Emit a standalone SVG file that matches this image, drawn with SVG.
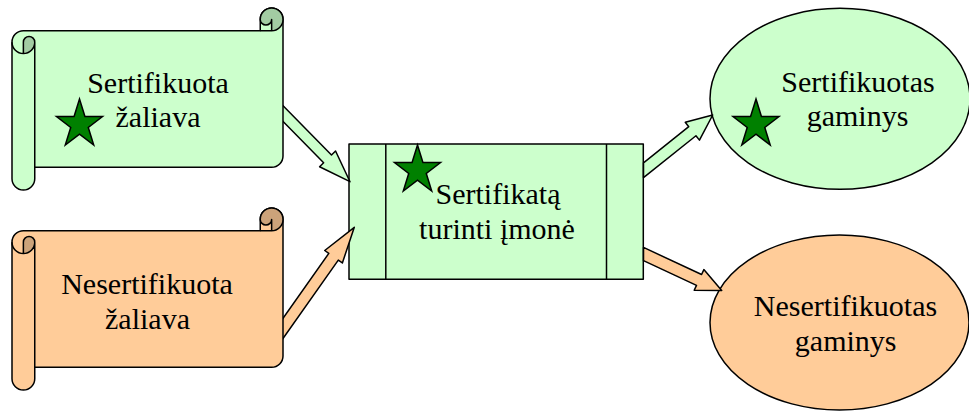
<svg xmlns="http://www.w3.org/2000/svg" xmlns:xlink="http://www.w3.org/1999/xlink" width="969" height="413" viewBox="0 0 969 413">
<style>
  .ln { stroke: #000; stroke-width: 1.5; stroke-linejoin: round; }
  .g { fill: #CCFFCC; }
  .o { fill: #FFCC99; }
  .gd { fill: #A3CCA3; }
  .od { fill: #CCA37A; }
  .nf { fill: none; }
  .star { fill: #008000; stroke: #000; stroke-width: 1.5; stroke-linejoin: miter; }
  .t { font-family: "Liberation Serif", "Times New Roman", serif; font-size: 30px; fill: #000; text-anchor: middle; }
</style>
<defs>
  <path id="star" d="M23,0 L28.43,17.57 L46,17.57 L31.78,28.43 L37.21,46 L23,35.14 L8.79,46 L14.22,28.43 L0,17.57 L17.57,17.57 Z"/>
</defs>
<rect width="969" height="413" fill="#FFFFFF"/>

<g id="node-firm">
  <rect class="g ln" x="349" y="144" width="294.3" height="135.3"/>
  <line class="ln" x1="385.8" y1="144" x2="385.8" y2="279.3"/>
  <line class="ln" x1="606.5" y1="144" x2="606.5" y2="279.3"/>
  <use href="#star" xlink:href="#star" class="star" x="394.5" y="145"/>
  <text class="t" x="498" y="203.5">Sertifikatą</text>
  <text class="t" x="497" y="238.5">turinti įmonė</text>
</g>

<g id="node-cert-product">
  <ellipse class="g ln" cx="840" cy="98.8" rx="130" ry="90.5"/>
  <use href="#star" xlink:href="#star" class="star" x="733" y="99"/>
  <text class="t" x="858" y="92">Sertifikuotas</text>
  <text class="t" x="857.5" y="126">gaminys</text>
</g>

<g id="node-noncert-product">
  <ellipse class="o ln" cx="839.5" cy="322.5" rx="129.5" ry="87.5"/>
  <text class="t" x="845.5" y="316">Nesertifikuotas</text>
  <text class="t" x="845.7" y="350.5">gaminys</text>
</g>

<g id="connectors">
  <polygon class="g ln" points="269.81,92.25 331.49,155.02 335.56,151.02 350,181.7 319.58,166.72 323.65,162.72 261.97,99.95"/>
  <polygon class="o ln" points="263.1,346.53 328.81,253.38 324.73,250.49 354.3,227.3 342.37,262.95 338.29,260.06 272.58,353.21"/>
  <polygon class="g ln" points="643.5,162.8 688.74,126.66 685.25,122.3 712.7,115 699.45,140.1 695.96,135.74 643.5,177.6"/>
  <polygon class="o ln" points="643.5,247.42 701.58,274.5 703.86,269.6 721.7,290.5 694.2,290.27 696.5,285.38 643.5,260.67"/>
</g>

<g id="node-cert-raw">
  <path class="g ln" d="M12,42.125 A11.375,11.375 0 0 1 23.375,30.75 L260.25,30.75 L260.25,19.375 A11.375,11.375 0 0 1 283,19.375 L283,155.875 A11.375,11.375 0 0 1 271.625,167.25 L34.75,167.25 L34.75,178.625 A11.375,11.375 0 0 1 12,178.625 Z"/>
  <path class="gd" d="M23.375,53.5 A11.375,11.375 0 0 0 34.75,42.125 A5.6875,5.6875 0 0 0 23.375,42.125 Z"/>
  <path class="gd" d="M260.25,19.375 A11.375,11.375 0 1 1 271.625,30.75 L271.625,19.375 A5.6875,5.6875 0 0 1 260.25,19.375 Z"/>
  <path class="nf ln" d="M23.375,53.5 L23.375,42.125 A5.6875,5.6875 0 0 1 34.75,42.125 A11.375,11.375 0 0 1 12,42.125 M34.75,42.125 L34.75,167.25 M260.25,30.75 L271.625,30.75 A11.375,11.375 0 0 0 283,19.375 M271.625,30.75 L271.625,19.375 A5.6875,5.6875 0 0 1 260.25,19.375 M260.25,19.375 A11.375,11.375 0 0 1 283,19.375"/>
  <use href="#star" xlink:href="#star" class="star" x="56.5" y="99"/>
  <text class="t" x="158" y="93">Sertifikuota</text>
  <text class="t" x="158" y="127">žaliava</text>
</g>

<g id="node-noncert-raw" transform="translate(0,200)">
  <path class="o ln" d="M12,42.125 A11.375,11.375 0 0 1 23.375,30.75 L260.25,30.75 L260.25,19.375 A11.375,11.375 0 0 1 283,19.375 L283,155.875 A11.375,11.375 0 0 1 271.625,167.25 L34.75,167.25 L34.75,178.625 A11.375,11.375 0 0 1 12,178.625 Z"/>
  <path class="od" d="M23.375,53.5 A11.375,11.375 0 0 0 34.75,42.125 A5.6875,5.6875 0 0 0 23.375,42.125 Z"/>
  <path class="od" d="M260.25,19.375 A11.375,11.375 0 1 1 271.625,30.75 L271.625,19.375 A5.6875,5.6875 0 0 1 260.25,19.375 Z"/>
  <path class="nf ln" d="M23.375,53.5 L23.375,42.125 A5.6875,5.6875 0 0 1 34.75,42.125 A11.375,11.375 0 0 1 12,42.125 M34.75,42.125 L34.75,167.25 M260.25,30.75 L271.625,30.75 A11.375,11.375 0 0 0 283,19.375 M271.625,30.75 L271.625,19.375 A5.6875,5.6875 0 0 1 260.25,19.375 M260.25,19.375 A11.375,11.375 0 0 1 283,19.375"/>
  <text class="t" x="147" y="94">Nesertifikuota</text>
  <text class="t" x="147.5" y="128.5">žaliava</text>
</g>
</svg>
